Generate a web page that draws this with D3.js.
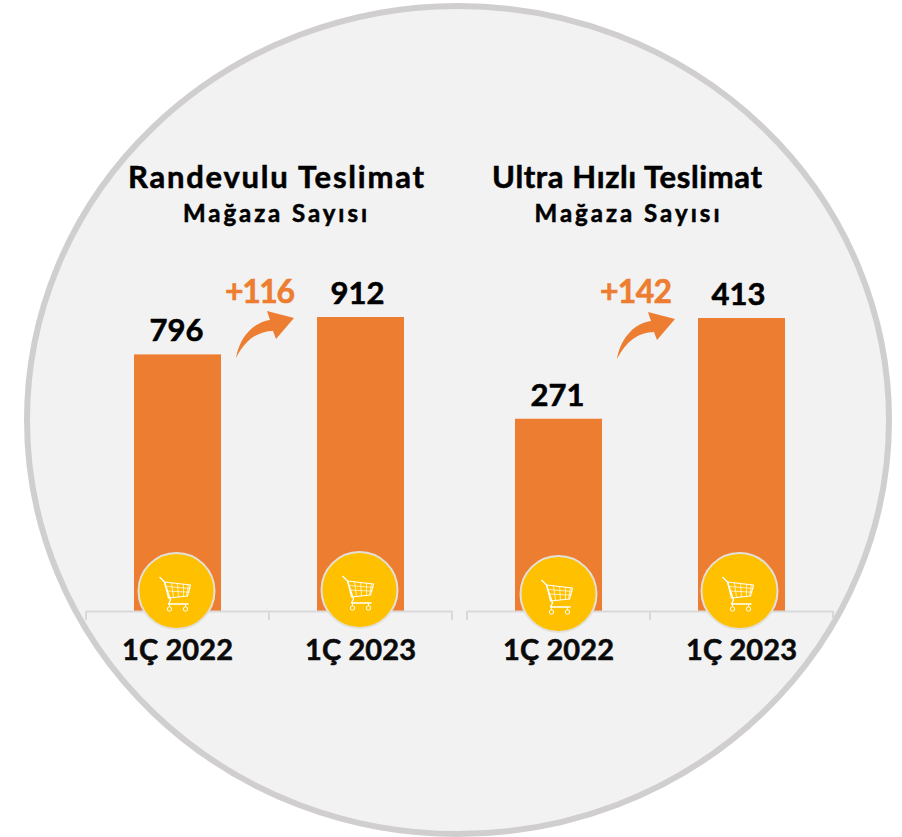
<!DOCTYPE html>
<html><head><meta charset="utf-8">
<script src="https://cdn.jsdelivr.net/npm/d3@7"></script>
<style>
html,body{margin:0;padding:0;background:#fff}
svg{display:block}
text{font-family:Lato,"Open Sans",sans-serif;font-weight:700;stroke:currentColor;stroke-width:.55px}
</style></head><body>
<svg id="c" width="902" height="837"></svg>
<script>
const categories = ["1Ç 2022", "1Ç 2023"];
const titlesMain = ["Randevulu Teslimat", "Ultra Hızlı Teslimat"];
const subtitle = "Mağaza Sayısı";
const valuesRandevulu = [796, 912];
const valuesUltra = [271, 413];
const deltas = ["+116", "+142"];

const ORANGE = "#ED7D31", GOLD = "#FFC000";
const svg = d3.select("#c");

svg.append("ellipse").attr("cx",458).attr("cy",420).attr("rx",431).attr("ry",414)
  .attr("fill","#f2f2f2").attr("stroke","#d0cece").attr("stroke-width",6);

const panels = [
  {values:valuesRandevulu, title:titlesMain[0], delta:deltas[0], x0:86, cx:276, tw:296, sw:184, sx:275, dx:260, dw:70, arrowDx:0, arrowDy:0, yTop:317, badgeDy:[-20,-21], badgeDx:[-1,-1], valDx:[-1,-3]},
  {values:valuesUltra, title:titlesMain[1], delta:deltas[1], x0:467, cx:627, tw:270, sw:185, sx:627, dx:636, dw:72, arrowDx:381, arrowDy:1, yTop:318, badgeDy:[-17,-20], badgeDx:[0,-2], valDx:[-1,-3]}
];

function cart(g){
  const line = d3.line();
  const s = g.append("g").attr("fill","none").attr("stroke","#fff").attr("stroke-linejoin","round");
  s.append("path").attr("stroke-width",1.3).attr("d",line([[-17,-14],[-12,-9],[-6,9],[-8,13],[12,13]]));
  s.append("path").attr("stroke-width",1.1).attr("d",line([[-12,-9],[14,-6],[11,5],[-8,7]])+"Z");
  s.append("path").attr("stroke-width",.7).attr("d",
    line([[-5,-8.2],[-3,6.5]])+line([[1,-7.7],[2,6]])+line([[7,-7],[7,5.5]])+line([[12,-6.3],[10,5.2]])+
    line([[-11,-4.6],[14,-2.5]])+line([[-9.5,0],[13,1.2]]));
  s.append("circle").attr("cx",-7).attr("cy",18).attr("r",2.2).attr("stroke-width",1);
  s.append("circle").attr("cx",9).attr("cy",18).attr("r",2.2).attr("stroke-width",1);
  s.append("path").attr("stroke-width",.9).attr("d",line([[-7,13],[-7,16]])+line([[9,13],[9,16]]));
}

const baseY = 611;
panels.forEach(p => {
  const x = d3.scaleBand().domain(categories).range([p.x0, p.x0+366]);
  const y = d3.scaleLinear().domain([0, d3.max(p.values)]).range([baseY, p.yTop]);
  const barW = 87;
  const g = svg.append("g");

  g.append("text").attr("x",p.cx).attr("y",188).attr("text-anchor","middle")
    .attr("font-size",31).attr("fill","#000").style("color","#000").attr("textLength",p.tw).attr("lengthAdjust","spacing").text(p.title);
  g.append("text").attr("x",p.sx).attr("y",222).attr("text-anchor","middle")
    .attr("font-size",24).attr("fill","#000").style("color","#000").attr("textLength",p.sw).attr("lengthAdjust","spacing").text(subtitle);

  const data = categories.map((c,i)=>({c,v:p.values[i],i}));
  g.selectAll(".bar").data(data).join("rect")
    .attr("x",d=>x(d.c)+x.bandwidth()/2-barW/2).attr("width",barW)
    .attr("y",d=>y(d.v)).attr("height",d=>baseY-y(d.v)).attr("fill",ORANGE);

  const ax = d3.axisBottom(x).tickSize(0).tickPadding(0);
  const axisG = g.append("g").attr("transform",`translate(0,${baseY})`).call(ax);
  axisG.select(".domain").attr("stroke","#d9d9d9").attr("stroke-width",2);
  axisG.selectAll(".tick text").attr("y",49).attr("dy",0).attr("font-size",29)
    .attr("font-family",null).attr("fill","#0a0a0a").style("color","#0a0a0a").attr("textLength",111).attr("lengthAdjust","spacing");
  [p.x0, p.x0+183, p.x0+366].forEach(t =>
    g.append("line").attr("x1",t).attr("x2",t).attr("y1",baseY).attr("y2",baseY+9).attr("stroke","#d9d9d9").attr("stroke-width",2));

  g.selectAll(".val").data(data).join("text")
    .attr("x",d=>x(d.c)+x.bandwidth()/2+p.valDx[d.i]).attr("y",d=>y(d.v)-13)
    .attr("text-anchor","middle").attr("font-size",31).attr("fill","#000").style("color","#000").text(d=>d.v);

  g.append("text").attr("x",p.dx).attr("y",303).attr("text-anchor","middle")
    .attr("font-size",32).attr("fill",ORANGE).style("color",ORANGE).attr("textLength",p.dw).attr("lengthAdjust","spacing").text(p.delta);

  g.append("path").attr("transform",`translate(${p.arrowDx},${p.arrowDy})`).attr("fill",ORANGE)
    .attr("d","M236,358 C240,335 255,322 270,320 L267,311 L294,318 L276,339 L273,331 C258,331 245,340 236,358 Z");

  data.forEach(d=>{
    const b = g.append("g").attr("transform",`translate(${x(d.c)+x.bandwidth()/2+p.badgeDx[d.i]},${baseY+p.badgeDy[d.i]})`);
    b.append("circle").attr("r",38).attr("fill",GOLD).attr("stroke","#e3e0da").attr("stroke-width",2);
    cart(b);
  });
});
</script></body></html>
